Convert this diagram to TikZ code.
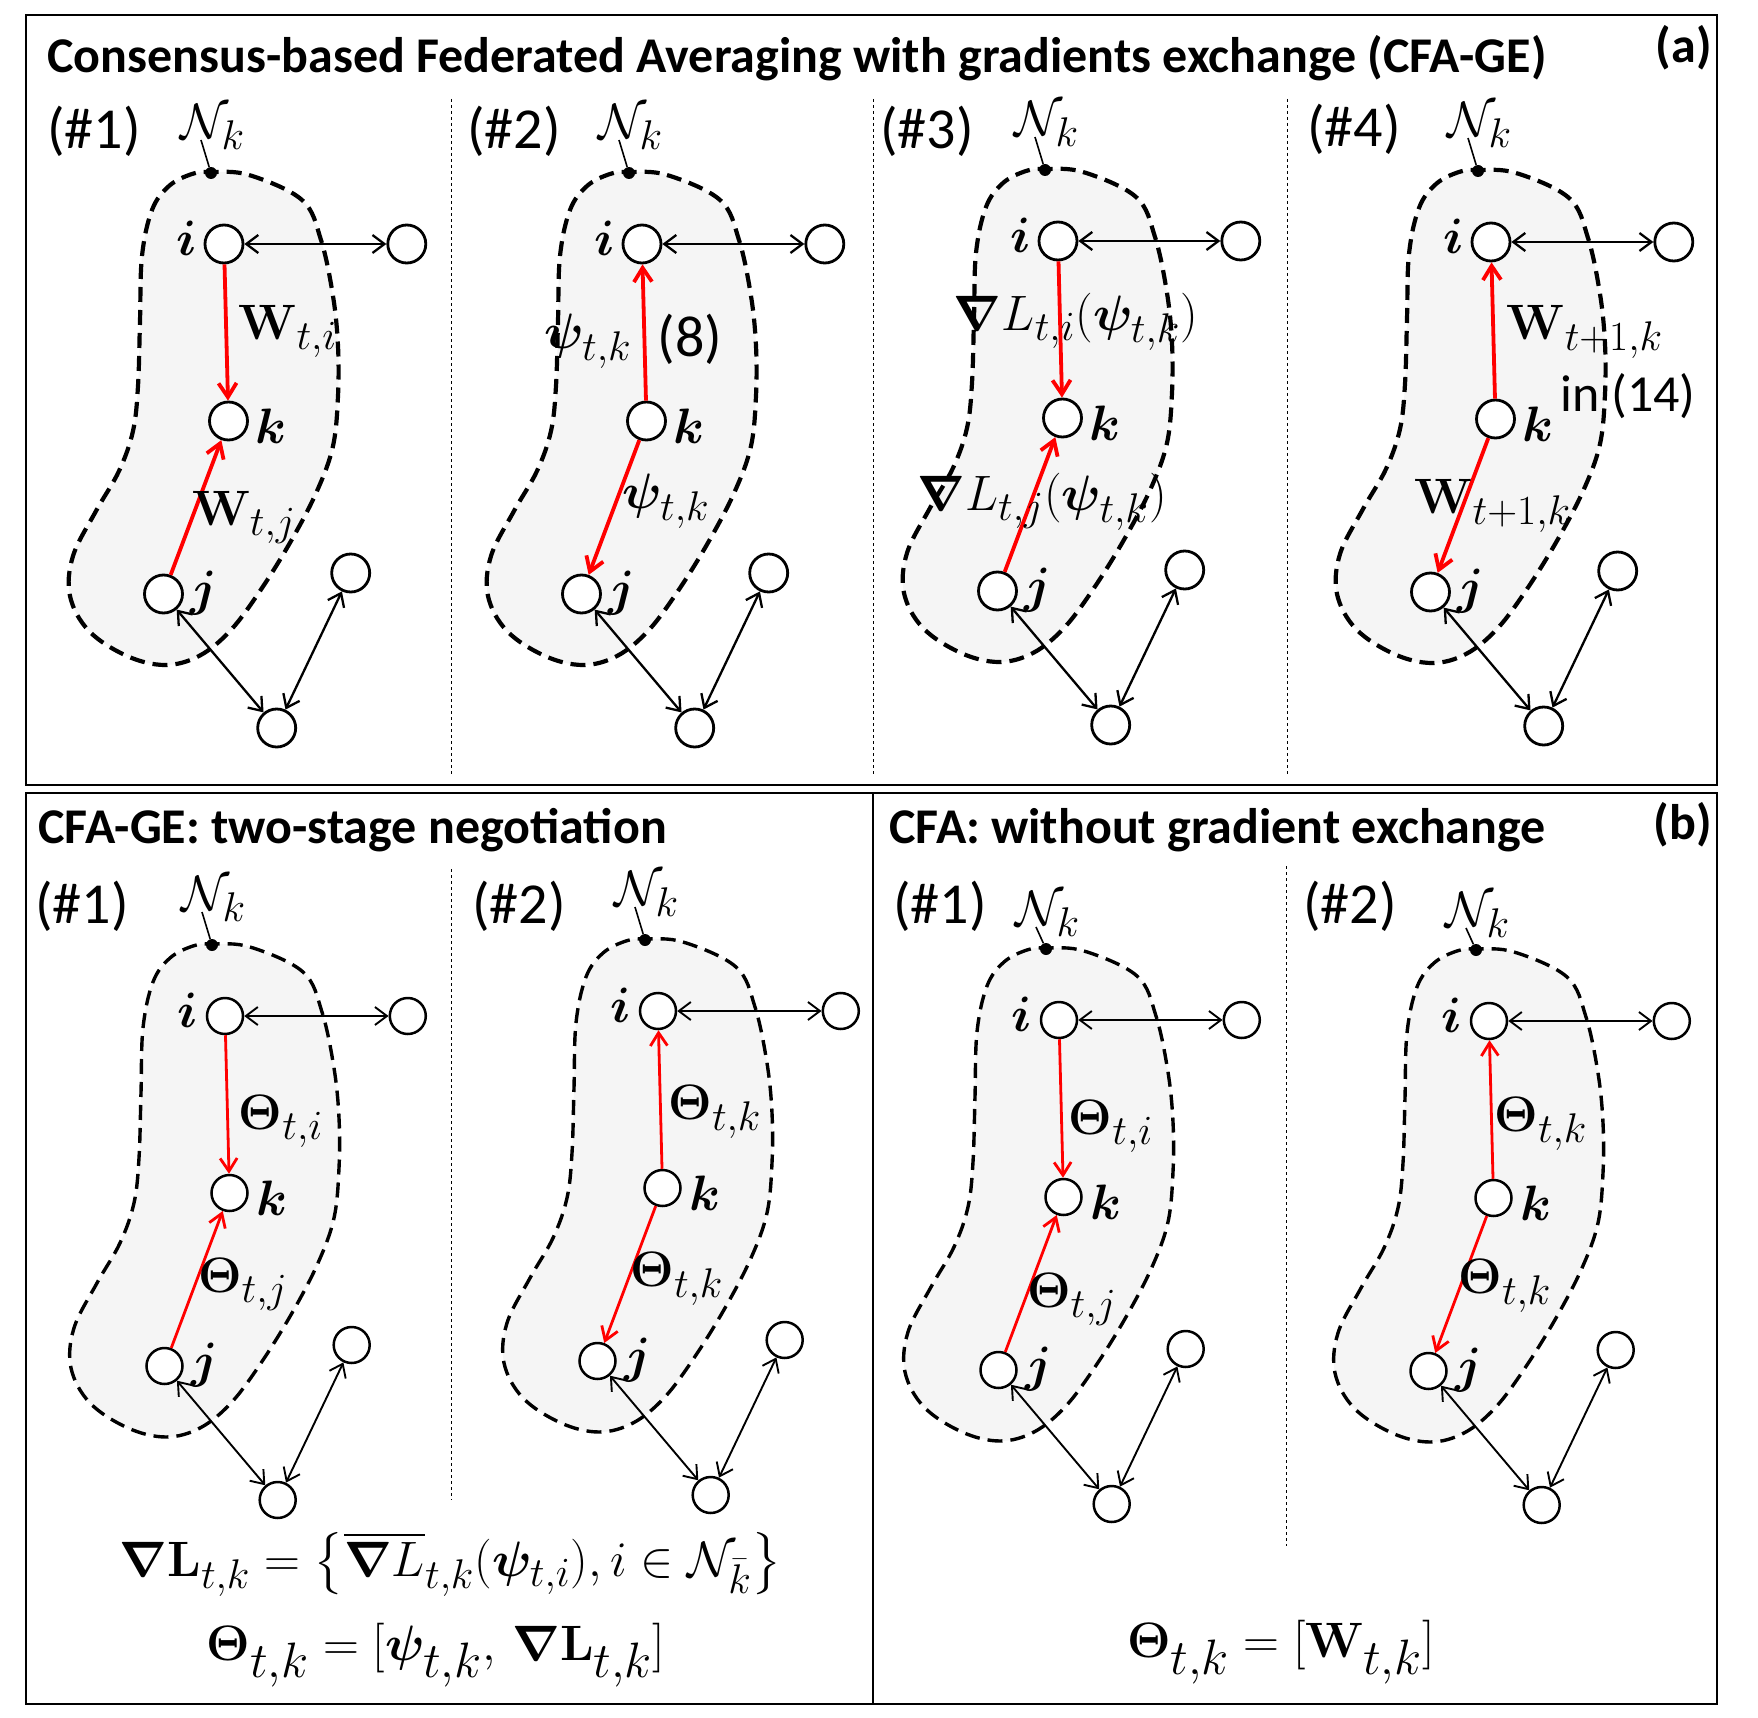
\documentclass[tikz,border=0pt]{standalone}
\usepackage[no-math]{fontspec}
\usepackage{amsmath,amssymb,bm}
\newfontfamily\calib{Carlito}
\usetikzlibrary{arrows.meta}
\DeclareMathSizes{28}{28}{21.5}{16}
\DeclareMathSizes{33}{33}{24}{18}
\DeclareMathSizes{26}{26}{19.5}{14}
\tikzset{
 nd/.style={circle, draw, line width=1.4pt, fill=white, minimum size=19pt, inner sep=0pt},
 blk/.style={draw, line width=1.15pt, {Straight Barb[length=6pt,width=9pt]}-{Straight Barb[length=6pt,width=9pt]}},
 redar/.style={draw=red, line width=1.9pt, -{Straight Barb[length=7pt,width=9pt]}},
 redarb/.style={draw=red, line width=1.4pt, -{Straight Barb[length=6.5pt,width=8.5pt]}},
 blobst/.style={draw, line width=2.1pt, dash pattern=on 7.5pt off 4pt, fill=black!4},
 lowstyle/.style={blobst/.append style={line width=1.7pt}, blk/.append style={line width=0.95pt}, nd/.append style={line width=1.25pt, minimum size=18pt}},
 ml/.style={inner sep=0pt, font=\fontsize{28}{32}\selectfont},
 nl/.style={inner sep=0pt, font=\fontsize{28}{32}\selectfont},
 tl/.style={inner sep=0pt, font=\calib\fontsize{29}{33}\selectfont},
 tls/.style={inner sep=0pt, font=\calib\fontsize{26}{30}\selectfont},
 ttl/.style={inner sep=0pt, font=\calib\bfseries\fontsize{25}{30}\selectfont, anchor=base west},
 sepl/.style={line width=0.5pt, dash pattern=on 1.5pt off 1.5pt},
 frm/.style={line width=1.3pt},
 dotst/.style={circle, fill, inner sep=0pt, minimum size=6pt},
}
% #1 prefix, #2 x, #3 y, #4 Nk y offset, #5 extra style
\newcommand\mypanel[5]{%
\begin{scope}[shift={(#2,#3)}, #5]
 \draw[blobst] plot[smooth cycle, tension=0.6] coordinates {(-13,-72) (25,-69) (78,-44) (97,-4) (109,52) (114,102) (114,152) (109,202) (93,247) (67,297) (36,347) (6,387) (-25,412) (-59,421) (-97,412) (-135,387) (-154,352) (-151,312) (-128,267) (-105,227) (-91,187) (-86,142) (-84,77) (-82,12) (-72,-34) (-55,-58) (-32,-70)};
 \node[nd] (#1i) at (0,0) {};
 \node[nd] (#1k) at (4.5,177) {};
 \node[nd] (#1j) at (-60.5,350) {};
 \node[nd] (#1b) at (52.7,484) {};
 \node[nd] (#1r) at (182.8,0) {};
 \node[nd] (#1rb) at (126.7,329) {};
 \node[nl] (#1li) at (-37,-6) {$\bm{i}$};
 \node[nl] (#1lk) at (47,182) {$\bm{k}$};
 \node[nl] (#1lj) at (-20,349) {$\bm{j}$};
 \node[ml] (#1N) at (-11,#4) {$\mathcal{N}_k$};
 \node[dotst] (#1d) at (-13,-71) {};
 \coordinate (#1p) at (-23,#4+13);
 \draw[line width=0.8pt] (#1d) -- (#1p);
 \draw[blk] (#1i) -- (#1r);
 \draw[blk] (#1j) -- (#1b);
 \draw[blk] (#1b) -- (#1rb);
\end{scope}}
\begin{document}
\begin{tikzpicture}[x=0.5pt,y=-0.5pt]
\useasboundingbox (0,0) rectangle (1758,1718);
% frames
\draw[frm] (26,15) rectangle (1717,785);
\draw[frm] (26,793) rectangle (1717,1704);
\draw[frm] (873,793) -- (873,1704);
% separators
\draw[sepl] (451,99) -- (451,776);
\draw[sepl] (873,99) -- (873,776);
\draw[sepl] (1287,99) -- (1287,776);
\draw[sepl] (451,869) -- (451,1500);
\draw[sepl] (1286,866) -- (1286,1546);
% titles
\node[ttl] (t1) at (47,73) {Consensus-based Federated Averaging with gradients exchange (CFA-GE)};
\node[ttl, anchor=base east] (ta) at (1712,63) {(a)};
\node[ttl] (t2) at (38,843) {CFA-GE: two-stage negotiation};
\node[ttl] (t3) at (889,843) {CFA: without gradient exchange};
\node[ttl, anchor=base east] (tb) at (1712,839) {(b)};
% step labels
\node[tl, anchor=base west] (s1) at (47,149) {(\#1)};
\node[tl, anchor=base west] (s2) at (467,149) {(\#2)};
\node[tl, anchor=base west] (s3) at (880,149) {(\#3)};
\node[tl, anchor=base west] (s4) at (1307,147) {(\#4)};
\node[tl, anchor=base west] (s5) at (35,923) {(\#1)};
\node[tl, anchor=base west] (s6) at (472,923) {(\#2)};
\node[tl, anchor=base west] (s7) at (893,923) {(\#1)};
\node[tl, anchor=base west] (s8) at (1303,923) {(\#2)};
% panels
\mypanel{A}{224}{244}{-117}{}
\mypanel{B}{642}{244}{-117}{}
\mypanel{C}{1058}{241}{-117}{}
\mypanel{D}{1491}{242}{-117}{}
\mypanel{E}{225}{1016}{-117}{lowstyle}
\mypanel{F}{658}{1011}{-117}{lowstyle}
\mypanel{G}{1059}{1020}{-106}{lowstyle}
\mypanel{H}{1489}{1021}{-106}{lowstyle}
% red arrows
\draw[redar] (Ai) -- (Ak); \draw[redar] (Aj) -- (Ak);
\draw[redar] (Bk) -- (Bi); \draw[redar] (Bk) -- (Bj);
\draw[redar] (Ci) -- (Ck); \draw[redar] (Cj) -- (Ck);
\draw[redar] (Dk) -- (Di); \draw[redar] (Dk) -- (Dj);
\draw[redarb] (Ei) -- (Ek); \draw[redarb] (Ej) -- (Ek);
\draw[redarb] (Fk) -- (Fi); \draw[redarb] (Fk) -- (Fj);
\draw[redarb] (Gi) -- (Gk); \draw[redarb] (Gj) -- (Gk);
\draw[redarb] (Hk) -- (Hi); \draw[redarb] (Hk) -- (Hj);
% edge labels
\node[ml] (la1) at (288,331) {$\mathbf{W}_{t,i}$};
\node[ml] (la2) at (244,517) {$\mathbf{W}_{t,j}$};
\node[ml] (lb1) at (588,341) {$\bm{\psi}_{t,k}$};
\node[tl] (lb2) at (690,339) {(8)};
\node[ml] (lb3) at (666,501) {$\bm{\psi}_{t,k}$};
\node[ml] (lc1) at (1076,322) {$\bm{\nabla} L_{t,i}(\bm{\psi}_{t,k})$};
\node[ml] (lc2) at (1042,502) {$\bm{\nabla} L_{t,j}(\bm{\psi}_{t,k})$};
\node[ml] (ld1) at (1585,332) {$\mathbf{W}_{t+1,k}$};
\node[tls] (ld2) at (1628,396) {in (14)};
\node[ml] (ld3) at (1493,506) {$\mathbf{W}_{t+1,k}$};
\node[ml] (le1) at (281,1121) {$\bm{\Theta}_{t,i}$};
\node[ml] (le2) at (243,1284) {$\bm{\Theta}_{t,j}$};
\node[ml] (lf1) at (715,1112) {$\bm{\Theta}_{t,k}$};
\node[ml] (lf2) at (677,1279) {$\bm{\Theta}_{t,k}$};
\node[ml] (lg1) at (1111,1126) {$\bm{\Theta}_{t,i}$};
\node[ml] (lg2) at (1072,1299) {$\bm{\Theta}_{t,j}$};
\node[ml] (lh1) at (1541,1124) {$\bm{\Theta}_{t,k}$};
\node[ml] (lh2) at (1505,1286) {$\bm{\Theta}_{t,k}$};
% formulas
\node[ml, font=\fontsize{26}{30}\selectfont] (f1) at (451,1564) {$\bm{\nabla}\mathbf{L}_{t,k} = \bigl\{\overline{\bm{\nabla} L}_{t,k}(\bm{\psi}_{t,i}), i \in \mathcal{N}_{\bar{k}}\bigr\}$};
\node[ml, font=\fontsize{33}{37}\selectfont] (f2) at (436,1655) {$\bm{\Theta}_{t,k} = [\bm{\psi}_{t,k},\, \bm{\nabla}\mathbf{L}_{t,k}]$};
\node[ml, font=\fontsize{33}{37}\selectfont] (f3) at (1281,1652) {$\bm{\Theta}_{t,k} = [\mathbf{W}_{t,k}]$};
\end{tikzpicture}
\end{document}
